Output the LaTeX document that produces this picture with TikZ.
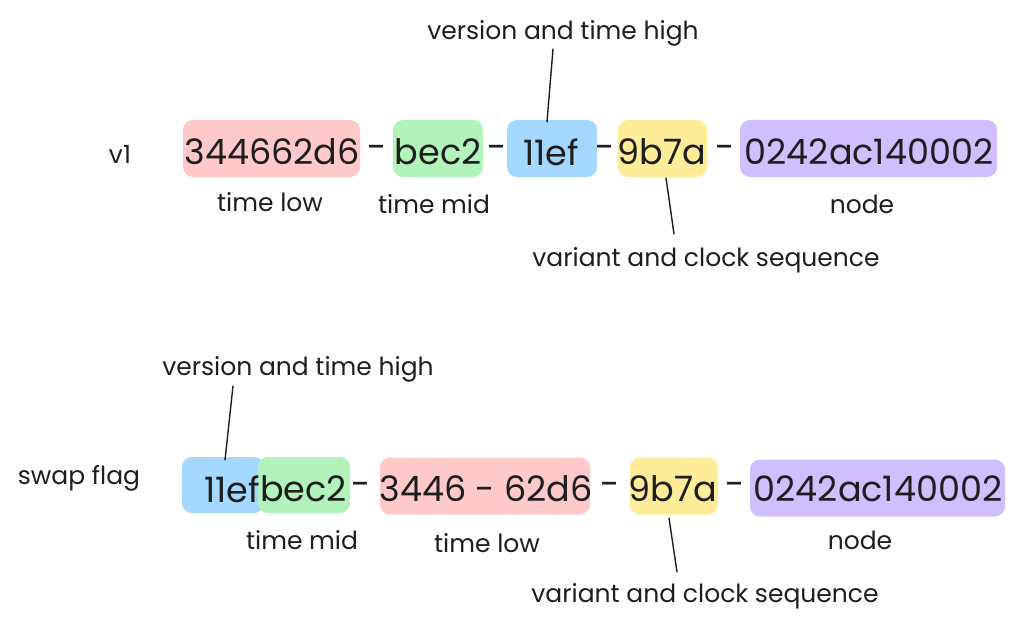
\documentclass[tikz,border=0pt]{standalone}
\usepackage{fontspec}
\setmainfont{Poppins}
\definecolor{ink}{HTML}{1E1E1E}
\definecolor{cred}{HTML}{FFC9C9}
\definecolor{cgreen}{HTML}{B2F2BB}
\definecolor{cblue}{HTML}{A5D8FF}
\definecolor{cyellow}{HTML}{FFEC99}
\definecolor{cpurple}{HTML}{D0BFFF}
\tikzset{
  seg/.style={rounded corners=10pt, inner sep=0pt, draw=none},
  hex/.style={text=ink, font=\fontsize{35}{40}\selectfont, inner sep=0pt},
  lbl/.style={text=ink, font=\fontsize{25}{30}\selectfont, inner sep=1pt},
  leader/.style={draw=ink, line width=1.4pt, line cap=round},
}
\begin{document}
\begin{tikzpicture}[x=1pt,y=-1pt]
\useasboundingbox (0,0) rectangle (1024,631);
% ---------- row 1 ----------
\node[lbl] (v1) at (120,154) {v1};
\node[seg, fill=cred, minimum width=177pt, minimum height=57pt] (r1) at (271.5,148.5) {};
\node[seg, fill=cgreen, minimum width=90pt, minimum height=57pt] (g1) at (438,148.5) {};
\node[seg, fill=cblue, minimum width=90pt, minimum height=57pt] (b1) at (552,148.5) {};
\node[seg, fill=cyellow, minimum width=89pt, minimum height=57pt] (y1) at (662.5,148.5) {};
\node[seg, fill=cpurple, minimum width=257pt, minimum height=57pt] (p1) at (868.5,148.5) {};
\node[hex] (tr1) at (272,152) {344662d6};
\node[hex] (d11) at (377,152) {-};
\node[hex] (tg1) at (438,152) {bec2};
\node[hex] (d12) at (497,152) {-};
\node[hex] (tb1) at (551,152) {11ef};
\node[hex] (d13) at (605,152) {-};
\node[hex] (ty1) at (662,152) {9b7a};
\node[hex] (d14) at (725,152) {-};
\node[hex] (tp1) at (869,152) {0242ac140002};
\node[lbl] (tl1) at (270,202) {time low};
\node[lbl] (tm1) at (434,204) {time mid};
\node[lbl] (nd1) at (862,204) {node};
\node[lbl] (vh1) at (563,33) {version and time high};
\node[lbl] (vc1) at (706,260) {variant and clock sequence};
\coordinate (a1) at (553,49);
\coordinate (a2) at (547,122);
\coordinate (a3) at (666,178);
\coordinate (a4) at (674,234);
\draw[leader] (a1) -- (a2);
\draw[leader] (a3) -- (a4);
% ---------- row 2 ----------
\node[lbl] (sf) at (79,478) {swap flag};
\node[seg, fill=cblue, minimum width=82pt, minimum height=56pt] (b2) at (223,485) {};
\node[seg, fill=cgreen, minimum width=92pt, minimum height=56pt] (g2) at (304,485) {};
\node[seg, fill=cred, minimum width=210pt, minimum height=57pt] (r2) at (485,486) {};
\node[seg, fill=cyellow, minimum width=88pt, minimum height=57pt] (y2) at (674,486) {};
\node[seg, fill=cpurple, minimum width=255pt, minimum height=57pt] (p2) at (877.5,488) {};
\node[hex, anchor=east] (tb2) at (260,489) {11ef};
\node[hex, anchor=west] (tg2) at (260,489) {bec2};
\node[hex] (d21) at (361,489) {-};
\node[hex] (tr2) at (486,489) {3446 - 62d6};
\node[hex] (d22) at (610,489) {-};
\node[hex] (ty2) at (673,489) {9b7a};
\node[hex] (d23) at (735,489) {-};
\node[hex] (tp2) at (878,489) {0242ac140002};
\node[lbl] (tm2) at (302,540) {time mid};
\node[lbl] (tl2) at (487,543) {time low};
\node[lbl] (nd2) at (860,540) {node};
\node[lbl] (vh2) at (298,369) {version and time high};
\node[lbl] (vc2) at (705,596) {variant and clock sequence};
\coordinate (a5) at (233,386);
\coordinate (a6) at (225,460);
\coordinate (a7) at (669,518);
\coordinate (a8) at (677,572);
\draw[leader] (a5) -- (a6);
\draw[leader] (a7) -- (a8);
\end{tikzpicture}
\end{document}
